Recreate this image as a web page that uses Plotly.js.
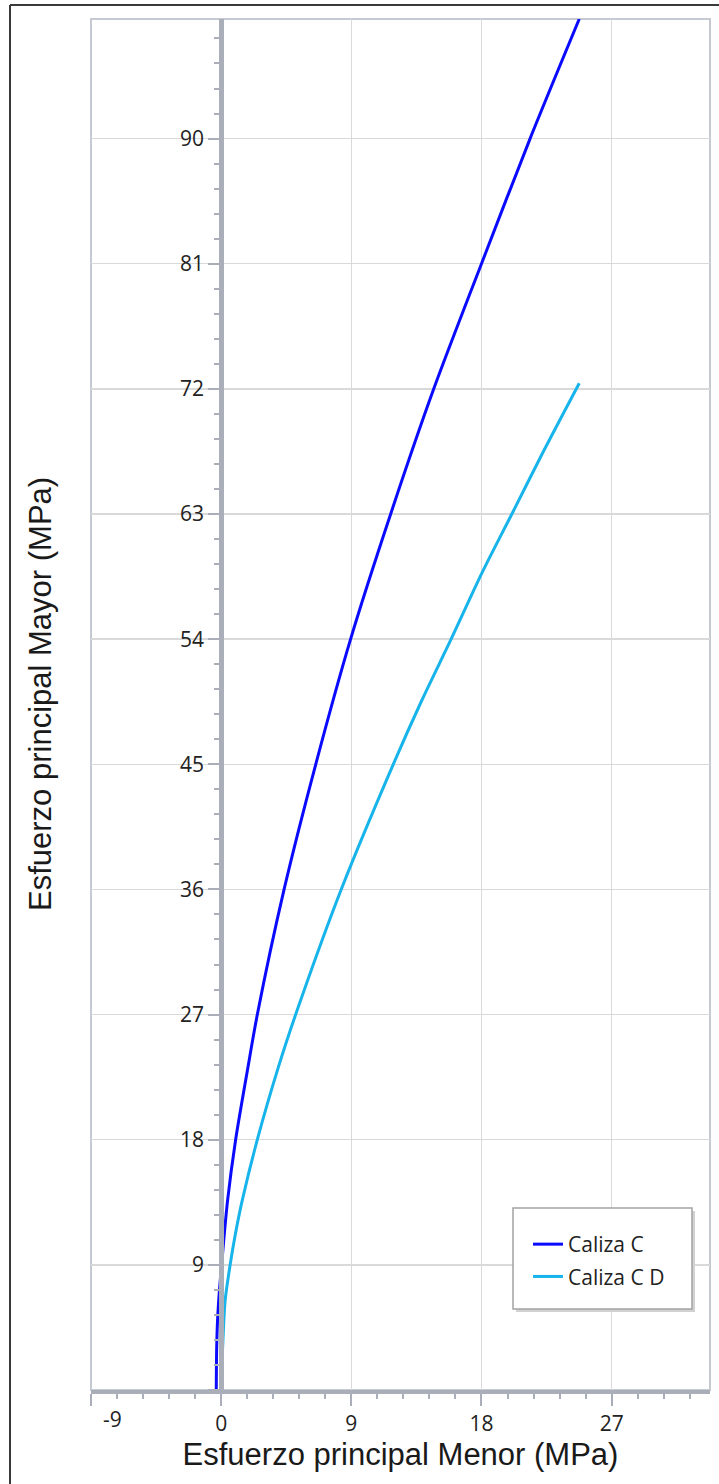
<!DOCTYPE html>
<html>
<head>
<meta charset="utf-8">
<script src="https://cdn.plot.ly/plotly-3.0.1.min.js"></script>
<style>
  html, body { margin: 0; padding: 0; background: #ffffff; }
  #chart { width: 719px; height: 1484px; }
</style>
</head>
<body>
<div id="chart"></div>
<script>
// ---------------- data ----------------
const seriesNames = ['Caliza C', 'Caliza C D'];

// Caliza C : minor principal stress (x) and major principal stress (y), MPa
const sigma3CalizaC = [-0.34, -0.31, -0.25, -0.13, 0.03, 0.44, 1.0, 1.85, 2.5, 4.35, 6.54, 8.95, 11.72, 14.7, 18.0, 21.36, 24.76];
const sigma1CalizaC = [0, 3, 5, 7, 9, 13.6, 18, 23.2, 27, 36, 45, 54, 63, 72, 81, 90, 98.6];

// Caliza C D
const sigma3CalizaCD = [-0.03, 0.03, 0.12, 0.27, 0.62, 0.98, 1.45, 2.5, 3.95, 5.15, 8.3, 11.9, 13.86, 15.9, 18.05, 20.1, 22.2, 24.76];
const sigma1CalizaCD = [0, 1.5, 3.5, 6.4, 9, 11.2, 13.6, 18, 23.2, 27, 36, 45, 49.57, 54, 58.8, 63, 67.33, 72.4];

const xTitle = 'Esfuerzo principal Menor (MPa)';
const yTitle = 'Esfuerzo principal Mayor (MPa)';
const xTickStep = 9;
const yTickStep = 9;
const minorStep = 1.8;
const xFirstTickLabel = '-9';

// ---------------- layout geometry ----------------
const W = 719, H = 1484;
const L = 91, R = 710, T = 19, B = 1390;   // plot area in pixels
const xRange = [-9, 33.8];
const yRange = [0, 98.6];
const px = p => (p - L) / (R - L);
const py = p => (B - p) / (B - T);

const axisGray = '#a9aeb8';
const gridGray = '#d9d9d9';
const tickFont = { family: "'Segoe UI', 'Open Sans', sans-serif", size: 21, color: '#222222' };
const titleFont = { family: "Arial, 'Liberation Sans', sans-serif", size: 31, color: '#1a1a1a' };

const traces = [
  {
    x: sigma3CalizaC, y: sigma1CalizaC, name: seriesNames[0],
    type: 'scatter', mode: 'lines', legendgroup: 'a',
    line: { color: '#0a0aff', width: 3, shape: 'spline', smoothing: 0.8 },
    cliponaxis: true
  },
  {
    x: sigma3CalizaCD, y: sigma1CalizaCD, name: seriesNames[1],
    type: 'scatter', mode: 'lines', legendgroup: 'b',
    line: { color: '#16b4ea', width: 3, shape: 'spline', smoothing: 0.8 },
    cliponaxis: true
  }
];

const yAxisPos = (0 - xRange[0]) / (xRange[1] - xRange[0]);

const layout = {
  width: W, height: H,
  margin: { l: L, r: W - R, t: T, b: H - B, pad: 0 },
  paper_bgcolor: '#ffffff',
  plot_bgcolor: '#ffffff',
  showlegend: true,
  xaxis: {
    range: xRange, tickmode: 'linear', tick0: 0, dtick: xTickStep,
    showline: true, linecolor: axisGray, linewidth: 4,
    ticks: 'outside', ticklen: 12, tickwidth: 2, tickcolor: axisGray,
    showgrid: true, gridcolor: gridGray, gridwidth: 1.5,
    zeroline: false,
    tickfont: tickFont,
    labelalias: { '\u22129': ' ' },
    minor: { tick0: 0, dtick: minorStep, ticks: 'outside', ticklen: 5, tickwidth: 2, tickcolor: axisGray, showgrid: false },
    title: { text: xTitle, font: titleFont, standoff: 6 },
    automargin: false, fixedrange: true
  },
  yaxis: {
    range: yRange, tickmode: 'linear', tick0: 0, dtick: yTickStep,
    anchor: 'free', position: yAxisPos,
    showline: true, linecolor: axisGray, linewidth: 5,
    ticks: 'outside', ticklen: 11, tickwidth: 2, tickcolor: axisGray,
    showgrid: true, gridcolor: gridGray, gridwidth: 1.5,
    zeroline: false,
    tickfont: tickFont,
    labelalias: { '0': '' },
    minor: { tick0: 0, dtick: minorStep, ticks: 'outside', ticklen: 5, tickwidth: 2, tickcolor: axisGray, showgrid: false },
    automargin: false, fixedrange: true
  },
  legend: {
    x: px(528), y: py(1224), xanchor: 'left', yanchor: 'top',
    bgcolor: 'rgba(0,0,0,0)', borderwidth: 0,
    font: tickFont, traceorder: 'grouped', tracegroupgap: 2
  },
  annotations: [
    {
      text: yTitle, xref: 'paper', yref: 'paper',
      x: px(40), y: py(694), xanchor: 'center', yanchor: 'middle',
      textangle: -90, showarrow: false, font: titleFont
    },
    {
      // the first x label sits inside the plot edge in the reference
      text: xFirstTickLabel, xref: 'paper', yref: 'paper',
      x: px(112), y: py(1419), xanchor: 'center', yanchor: 'middle',
      showarrow: false, font: tickFont
    }
  ],
  shapes: [
    // plot frame
    { type: 'rect', xref: 'paper', yref: 'paper', x0: 0, x1: 1, y0: 0, y1: 1,
      line: { color: '#c5c9d1', width: 2 }, layer: 'below' },
    // outer window edges
    { type: 'line', xref: 'paper', yref: 'paper', x0: px(10), x1: px(10), y0: py(5), y1: py(H + 5),
      line: { color: '#3a3a3a', width: 2 }, layer: 'above' },
    { type: 'line', xref: 'paper', yref: 'paper', x0: px(10), x1: px(W + 5), y0: py(5), y1: py(5),
      line: { color: '#3a3a3a', width: 2 }, layer: 'above' },
    // legend shadow and box
    { type: 'rect', xref: 'paper', yref: 'paper', x0: px(516), x1: px(695), y0: py(1312), y1: py(1211),
      fillcolor: '#d2d2d2', line: { width: 0 }, layer: 'above' },
    { type: 'rect', xref: 'paper', yref: 'paper', x0: px(513), x1: px(692), y0: py(1309), y1: py(1208),
      fillcolor: '#ffffff', line: { color: '#a3a3a3', width: 1.5 }, layer: 'above' }
  ]
};

Plotly.newPlot('chart', traces, layout, { staticPlot: true, displayModeBar: false });
</script>
</body>
</html>
